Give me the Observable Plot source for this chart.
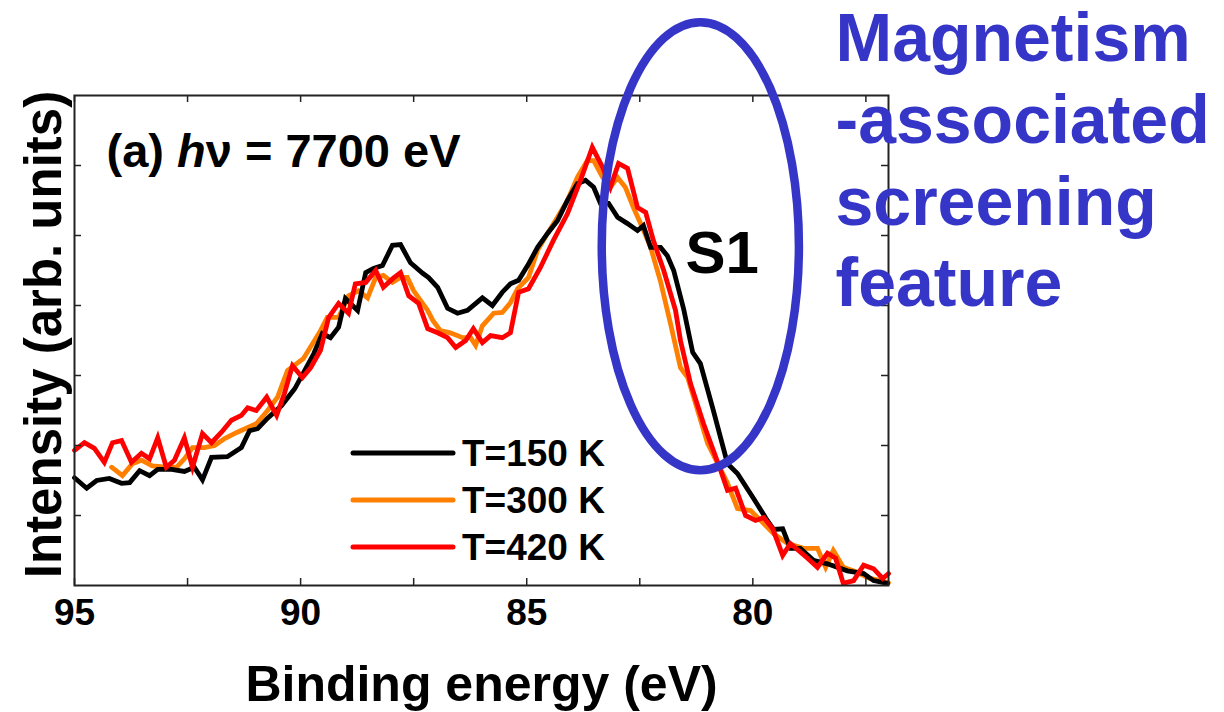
<!DOCTYPE html>
<html><head><meta charset="utf-8">
<script src="https://cdn.jsdelivr.net/npm/d3@7"></script>
<script src="https://cdn.jsdelivr.net/npm/@observablehq/plot@0.6"></script>
<style>body{margin:0;background:#fff;} svg{display:block;}</style>
</head><body><div id="chart"></div>
<script>
// ---- data (binding energy in eV, intensity in arb. units) ----
const e150 = [95.00,94.73,94.51,94.23,93.96,93.78,93.56,93.34,93.16,92.85,92.57,92.35,92.17,91.97,91.62,91.31,91.13,90.95,90.73,90.42,90.13,89.71,89.52,89.34,89.16,89.01,88.74,88.56,88.39,88.19,87.97,87.79,87.57,87.30,87.17,86.97,86.75,86.53,86.31,85.98,85.76,85.54,85.36,85.18,84.98,84.76,84.54,84.32,84.10,83.88,83.70,83.52,83.37,83.19,82.99,82.77,82.55,82.42,82.26,82.04,81.89,81.75,81.53,81.33,81.16,80.89,80.56,80.34,79.98,79.68,79.54,79.34,79.17,78.95,78.66,78.35,77.91,77.55,77.33,77.02];
const i150 = [1.54,1.39,1.50,1.53,1.46,1.47,1.64,1.57,1.66,1.66,1.63,1.69,1.51,1.83,1.84,1.97,2.21,2.24,2.39,2.57,2.81,3.31,3.60,3.54,3.69,4.10,3.93,4.47,4.53,4.57,4.86,4.87,4.61,4.46,4.40,4.26,3.96,3.89,3.93,4.11,4.00,4.19,4.31,4.36,4.57,4.83,5.03,5.21,5.50,5.74,5.79,5.69,5.46,5.46,5.26,5.17,5.07,5.14,4.83,4.83,4.71,4.50,3.95,3.33,3.17,2.54,1.74,1.60,1.24,0.93,0.80,0.81,0.53,0.53,0.36,0.31,0.21,0.17,0.07,0.03];
const e300 = [94.18,93.94,93.72,93.52,93.28,92.97,92.74,92.57,92.39,92.13,91.90,91.68,91.40,90.98,90.73,90.51,90.29,89.94,89.56,89.41,89.16,88.94,88.72,88.52,88.34,88.17,87.97,87.79,87.64,87.50,87.19,87.08,86.91,86.69,86.42,86.24,86.13,85.98,85.73,85.54,85.36,85.20,84.96,84.76,84.54,84.32,84.10,83.88,83.66,83.52,83.32,83.15,82.99,82.82,82.64,82.44,82.26,82.04,81.82,81.60,81.44,81.00,80.56,80.34,80.05,79.83,79.54,79.23,78.88,78.57,78.39,78.22,78.00,77.69,77.46,77.18,77.00];
const i300 = [1.69,1.57,1.74,1.79,1.71,1.69,1.69,1.81,1.97,1.97,2.00,2.10,2.19,2.31,2.50,2.69,3.07,3.24,3.64,3.83,3.83,4.14,4.21,4.11,4.40,4.43,4.33,4.40,4.40,4.21,3.93,3.79,3.64,3.61,3.54,3.54,3.43,3.71,3.89,3.90,4.04,4.24,4.40,4.79,5.03,5.26,5.50,5.83,6.07,6.07,5.83,5.69,5.83,5.69,5.40,5.11,4.83,4.34,3.74,3.11,2.97,2.03,1.46,1.10,1.07,0.93,0.74,0.60,0.53,0.53,0.26,0.50,0.26,0.19,0.11,0.07,0.04];
const e420 = [95.00,94.78,94.56,94.34,94.16,93.96,93.74,93.52,93.34,93.16,92.97,92.79,92.57,92.39,92.17,91.97,91.75,91.53,91.31,91.17,90.98,90.75,90.53,90.36,90.18,89.96,89.78,89.56,89.38,89.16,88.94,88.79,88.56,88.34,88.17,87.95,87.79,87.61,87.39,87.19,86.97,86.75,86.57,86.35,86.18,85.98,85.80,85.54,85.36,85.18,84.96,84.70,84.41,84.10,83.81,83.55,83.32,83.15,82.97,82.77,82.55,82.37,82.20,81.97,81.71,81.60,81.38,81.09,80.71,80.56,80.38,80.16,79.94,79.76,79.56,79.34,79.17,78.79,78.57,78.35,78.17,78.00,77.77,77.55,77.33,77.13,77.00];
const i420 = [1.93,2.04,1.96,1.76,2.04,2.07,1.76,1.89,1.81,2.11,1.69,1.79,2.11,1.69,2.17,2.04,2.19,2.36,2.43,2.54,2.50,2.69,2.43,2.74,3.14,2.97,3.11,3.36,3.83,4.03,3.89,4.31,4.33,4.50,4.26,4.39,4.47,4.14,4.03,3.67,3.61,3.54,3.40,3.50,3.67,3.47,3.57,3.54,3.61,4.19,4.24,4.54,4.93,5.31,5.79,6.26,5.97,5.69,6.03,5.96,5.40,5.33,4.93,4.50,3.93,3.50,2.89,2.31,1.64,1.36,1.39,1.00,0.93,0.97,0.81,0.43,0.60,0.39,0.26,0.46,0.39,0.03,0.07,0.29,0.24,0.10,0.17];

const seriesNames = ["T=150 K", "T=300 K", "T=420 K"];
const seriesColors = ["#000000", "#ff8000", "#ff0000"];
const xTicks = [95, 92.5, 90, 87.5, 85, 82.5, 80, 77.5];
const xTickLabels = [95, 90, 85, 80];
const yTicks = [1, 2, 3, 4, 5, 6];
const xDomain = [95, 77];
const yDomain = [0, 7];

const titleText = "(a) h\u03BD = 7700 eV";
const xLabel = "Binding energy (eV)";
const yLabel = "Intensity (arb. units)";
const featureLabel = "S1";
const noteText = "Magnetism\n-associated\nscreening\nfeature";
const blue = "#3535c8";

// ---- tidy table (drawing order: 300 K, 150 K, 420 K) ----
const rows = [];
[[e300, i300, 1], [e150, i150, 0], [e420, i420, 2]].forEach(([e, v, k]) => {
  e.forEach((x, j) => rows.push({E: x, I: v[j], T: seriesNames[k]}));
});

const W = 1224, H = 712;
const mL = 74, mR = 336, mT = 95, mB = 127;
const fw = W - mL - mR, fh = H - mT - mB;
const font = "Liberation Sans, Arial, Helvetica, sans-serif";

// ellipse annotation (data-space centre & radii)
const ell = {cx: 81.15, cy: 4.84, rx: 2.18, ry: 3.2};

function ellipseMark(index, scales) {
  const cx = scales.x(ell.cx), cy = scales.y(ell.cy);
  const rx = Math.abs(scales.x(ell.cx + ell.rx) - cx);
  const ry = Math.abs(scales.y(ell.cy + ell.ry) - cy);
  return d3.create("svg:ellipse")
    .attr("cx", cx).attr("cy", cy).attr("rx", rx).attr("ry", ry)
    .attr("fill", "none").attr("stroke", blue).attr("stroke-width", 8.5).node();
}

function legendMark(index, scales, values, dims) {
  const g = d3.create("svg:g");
  const x0 = dims.marginLeft + 279, len = 100, y0 = dims.marginTop + 358, step = 47;
  seriesNames.forEach((name, k) => {
    const y = y0 + k * step;
    g.append("line").attr("x1", x0).attr("x2", x0 + len).attr("y1", y).attr("y2", y)
      .attr("stroke", seriesColors[k]).attr("stroke-width", 5).attr("stroke-linecap", "round");
    g.append("text").attr("x", x0 + len + 9).attr("y", y).attr("dy", "0.35em")
      .attr("text-anchor", "start")
      .attr("font-size", 37).attr("font-weight", "bold").attr("font-family", font)
      .attr("fill", "#000").text(name);
  });
  return g.node();
}

const plot = Plot.plot({
  width: W, height: H,
  marginLeft: mL, marginRight: mR, marginTop: mT, marginBottom: mB,
  style: {fontFamily: font, background: "#fff", overflow: "visible"},
  x: {domain: xDomain, axis: null},
  y: {domain: yDomain, axis: null},
  color: {domain: seriesNames, range: seriesColors},
  marks: [
    Plot.line(rows, {x: "E", y: "I", z: "T", stroke: "T", strokeWidth: 4.8, strokeLinejoin: "miter", strokeMiterlimit: 4}),
    Plot.frame({stroke: "#222", strokeWidth: 2}),
    // inward ticks on all four sides
    Plot.ruleX(xTicks, {x: d => d, insetTop: fh - 7, stroke: "#222", strokeWidth: 1.5}),
    Plot.ruleX(xTicks, {x: d => d, insetBottom: fh - 7, stroke: "#222", strokeWidth: 1.5}),
    Plot.ruleY(yTicks, {y: d => d, insetRight: fw - 7, stroke: "#222", strokeWidth: 1.5}),
    Plot.ruleY(yTicks, {y: d => d, insetLeft: fw - 7, stroke: "#222", strokeWidth: 1.5}),
    // tick labels
    Plot.text(xTickLabels, {x: d => d, text: d => String(d), frameAnchor: "bottom", textAnchor: "middle", lineAnchor: "top", dy: 13, fontSize: 37, fontWeight: "bold", fill: "#000"}),
    // axis titles
    Plot.text([xLabel], {frameAnchor: "bottom", textAnchor: "middle", lineAnchor: "middle", dy: 99, fontSize: 50, fontWeight: "bold", fill: "#000"}),
    Plot.text([yLabel], {frameAnchor: "left", textAnchor: "middle", lineAnchor: "middle", rotate: -90, dx: -30, dy: -6, fontSize: 51, fontWeight: "bold", fill: "#000"}),
    // panel title
    Plot.text([titleText], {frameAnchor: "top-left", textAnchor: "start", lineAnchor: "middle", dx: 32, dy: 56, fontSize: 47, fontWeight: "bold", fill: "#000"}),
    // annotations
    ellipseMark,
    Plot.text([featureLabel], {x: () => 81.49, y: () => 4.74, textAnchor: "start", lineAnchor: "middle", fontSize: 60, fontWeight: "bold", fill: "#000"}),
    Plot.text([noteText], {frameAnchor: "top-right", textAnchor: "start", lineAnchor: "top", dx: -53, dy: -92, lineHeight: 1.2, fontSize: 68, fontWeight: "bold", fill: blue}),
    legendMark
  ]
});

// italic "h" in the panel title
plot.querySelectorAll("text").forEach(t => {
  if (t.textContent === titleText) {
    t.textContent = "";
    const ns = "http://www.w3.org/2000/svg";
    const parts = [["(a) ", "normal"], ["h", "italic"], ["\u03BD = 7700 eV", "normal"]];
    parts.forEach(([s, st]) => {
      const ts = document.createElementNS(ns, "tspan");
      ts.setAttribute("font-style", st);
      ts.textContent = s;
      t.appendChild(ts);
    });
  }
});

document.getElementById("chart").appendChild(plot);
</script>
</body></html>
